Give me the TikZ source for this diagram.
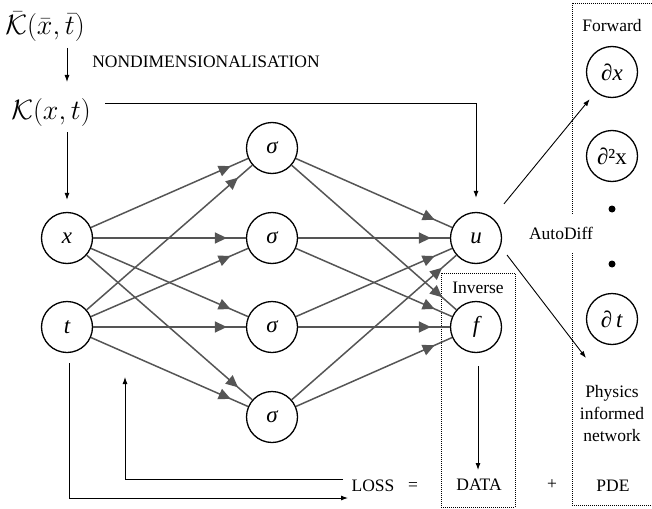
\documentclass[tikz,border=0pt]{standalone}
\usepackage{fix-cm}
\usepackage{fontspec}
\setmainfont{Liberation Serif}
\usetikzlibrary{arrows.meta,decorations.markings,calc}
\definecolor{edgegray}{HTML}{555555}
\begin{document}
\begin{tikzpicture}[x=1pt,y=-1pt,
  neuron/.style={circle,draw=black,line width=1.3pt,minimum size=51pt,inner sep=0pt,font=\fontsize{23}{26}\selectfont\itshape},
  dnode/.style={circle,draw=black,line width=1.3pt,minimum size=51pt,inner sep=0pt,font=\fontsize{23}{26}\selectfont},
  lbl/.style={font=\fontsize{17.5}{21}\selectfont,inner sep=0pt},
  mth/.style={font=\fontsize{28}{32}\selectfont,inner sep=0pt},
  nnedge/.style={draw=edgegray,line width=1.5pt,postaction={decorate},
    decoration={markings,mark=at position -19pt with {\arrow[edgegray]{Triangle[length=12pt,width=11pt]}}}},
  blk/.style={draw=black,line width=0.9pt,-{Latex[length=7pt,width=5pt]}},
  dotbox/.style={draw=black,line width=0.8pt,dash pattern=on 1pt off 1pt}]
\useasboundingbox (0,0) rectangle (652,508);

% boxes
\draw[dotbox] (572,3) rectangle (664,505);
\draw[dotbox] (441,273) rectangle (515,507);

% top texts
\node[mth] (kbar) at (45,27) {$\bar{\mathcal{K}}(\bar{x},\bar{t})$};
\node[mth] (k) at (51,113) {$\mathcal{K}(x,t)$};
\node[lbl] (nondim) at (206,62) {NONDIMENSIONALISATION};
\coordinate (n1) at (67,48);
\coordinate (n2) at (67,82);
\draw[blk] (n1) -- (n2);

% neurons
\node[neuron] (xn) at (67,238) {x};
\node[neuron] (tn) at (67,327) {t};
\node[neuron] (s1) at (272,148) {σ};
\node[neuron] (s2) at (272,238) {σ};
\node[neuron] (s3) at (272,327) {σ};
\node[neuron] (s4) at (272,417) {σ};
\node[neuron] (u) at (476,238) {u};
\node[neuron] (f) at (476,327) {f};

\foreach \a in {xn,tn}{
  \foreach \b in {s1,s2,s3,s4}{
    \path[nnedge] (\a) -- (\b);
  }
}
\foreach \a in {s1,s2,s3,s4}{
  \foreach \b in {u,f}{
    \path[nnedge] (\a) -- (\b);
  }
}

% K connections
\coordinate (kr) at (105,103);
\draw[blk,shorten >=14pt] (kr) -| (u);
\coordinate (kb) at (67,132);
\draw[blk,shorten >=12pt] (kb) -- (xn);

% right column
\node[lbl] (fwd) at (612,26) {Forward};
\node[dnode] (dx) at (612,72) {∂\textit{x}};
\node[dnode] (d2x) at (612,156) {∂²x};
\node[circle,fill=black,inner sep=0pt,minimum size=7pt] (dot1) at (612,209) {};
\node[circle,fill=black,inner sep=0pt,minimum size=7pt] (dot2) at (612,264) {};
\node[dnode] (dt) at (612,319) {∂\,\textit{t}};
\node[lbl,align=center] (phys) at (612,414) {Physics\\[1pt]informed\\[1pt]network};
\node[lbl,fill=white,minimum height=38pt,inner sep=2pt] (autodiff) at (561,233) {AutoDiff};

\draw[blk,shorten <=18pt,shorten >=9pt] (u) -- (dx);
\coordinate (ua) at (507,255);
\coordinate (pin) at (586,358);
\draw[blk] (ua) -- (pin);

% inverse
\node[lbl] (inv) at (478,288) {Inverse};
\node[lbl] (data) at (479,485) {DATA};
\coordinate (fa) at (478,366);
\coordinate (fb) at (478,470);
\draw[blk] (fa) -- (fb);

% loss line
\node[lbl] (loss) at (373,486) {LOSS};
\node[lbl] (eq) at (413,486) {=};
\node[lbl] (plus) at (552,485) {+};
\node[lbl] (pde) at (613,486) {PDE};

\coordinate (b1) at (69,363);
\coordinate (b2) at (348,498);
\draw[blk] (b1) |- (b2);
\coordinate (c1) at (343,479);
\coordinate (c2) at (125,377);
\draw[blk] (c1) -| (c2);
\end{tikzpicture}
\end{document}
